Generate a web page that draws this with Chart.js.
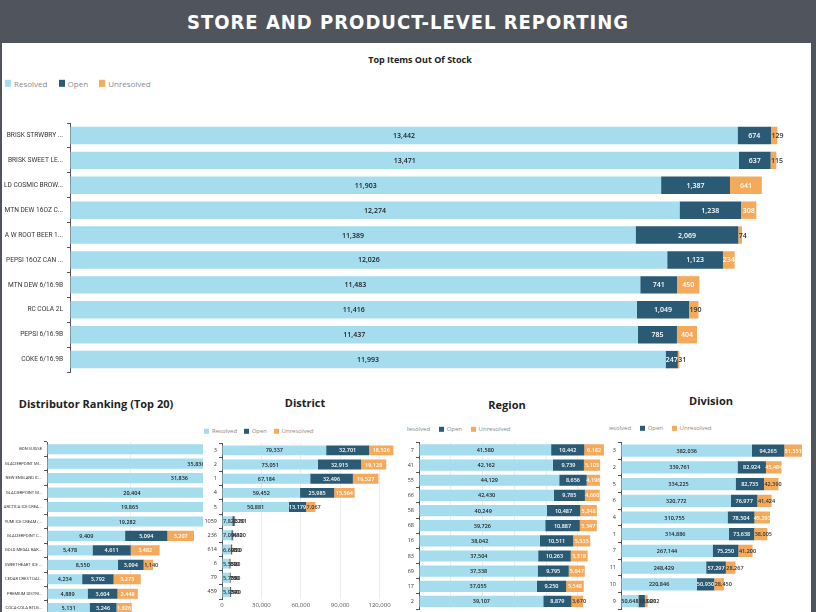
<!DOCTYPE html>
<html><head><meta charset="utf-8">
<script src="https://cdn.jsdelivr.net/npm/chart.js@4.4.1/dist/chart.umd.min.js"></script>
<style>
html,body{margin:0;padding:0;width:816px;height:612px;overflow:hidden;background:#50555d;font-family:'Open Sans',sans-serif;position:relative;}
#header{position:absolute;left:0;top:0;width:816px;height:42px;color:#fff;font-family:'DejaVu Sans Condensed','DejaVu Sans',sans-serif;font-weight:bold;font-size:20px;letter-spacing:1px;text-align:center;line-height:44px;}
#panel{position:absolute;left:2px;top:43px;width:809px;height:569px;background:#fff;}
.box{position:absolute;overflow:hidden;background:#fff;}
.title{position:absolute;font-weight:bold;color:#222;white-space:nowrap;transform:translate(-50%,-50%);}
.legend{position:absolute;white-space:nowrap;color:#8a8a8a;transform:translateY(-50%);}
.legend i{display:inline-block;vertical-align:middle;margin-right:3px;}
.legend b{font-weight:normal;vertical-align:middle;}
canvas{position:absolute;}
</style></head>
<body>
<div id="header">STORE AND PRODUCT-LEVEL REPORTING</div>
<div id="panel"></div>

<div class="title" style="left:420px;top:59px;font-size:9px;">Top Items Out Of Stock</div>
<div class="legend" style="left:5px;top:83px;font-size:8px;">
  <i style="width:6px;height:7px;background:#a5ddef"></i><b style="margin-right:9px">Resolved</b>
  <i style="width:6px;height:7px;background:#2b5a74"></i><b style="margin-right:9px">Open</b>
  <i style="width:6px;height:7px;background:#f5a95b"></i><b>Unresolved</b>
</div>
<canvas id="cTop" width="812" height="270" style="left:0;top:110px;"></canvas>

<div class="box" style="left:2px;top:390px;width:203px;height:222px;">
  <div class="title" style="left:94px;top:13px;font-size:11px;">Distributor Ranking (Top 20)</div>
  <canvas id="cDist" width="462" height="185" style="left:0;top:45px;"></canvas>
</div>

<div class="box" style="left:203px;top:390px;width:204px;height:222px;">
  <div class="title" style="left:102px;top:12px;font-size:11px;">District</div>
  <div class="legend" style="left:1px;top:41px;font-size:6px;">
    <i style="width:5px;height:5px;background:#a5ddef"></i><b style="margin-right:5px">Resolved</b>
    <i style="width:5px;height:5px;background:#2b5a74"></i><b style="margin-right:5px">Open</b>
    <i style="width:5px;height:5px;background:#f5a95b"></i><b>Unresolved</b>
  </div>
  <canvas id="cDistrict" width="230" height="174" style="left:0;top:48px;"></canvas>
</div>

<div class="box" style="left:407px;top:390px;width:202px;height:222px;">
  <div class="title" style="left:100px;top:14px;font-size:11px;">Region</div>
  <div class="legend" style="left:-10px;top:39px;font-size:6px;">
    <i style="width:5px;height:5px;background:#a5ddef"></i><b style="margin-right:7px">Resolved</b>
    <i style="width:5px;height:5px;background:#2b5a74"></i><b style="margin-right:7px">Open</b>
    <i style="width:5px;height:5px;background:#f5a95b"></i><b>Unresolved</b>
  </div>
  <canvas id="cRegion" width="215" height="190" style="left:0;top:47px;"></canvas>
</div>

<div class="box" style="left:609px;top:390px;width:202px;height:222px;">
  <div class="title" style="left:102px;top:10px;font-size:11px;">Division</div>
  <div class="legend" style="left:-11px;top:38px;font-size:6px;">
    <i style="width:5px;height:5px;background:#a5ddef"></i><b style="margin-right:7px">Resolved</b>
    <i style="width:5px;height:5px;background:#2b5a74"></i><b style="margin-right:7px">Open</b>
    <i style="width:5px;height:5px;background:#f5a95b"></i><b>Unresolved</b>
  </div>
  <canvas id="cDivision" width="201" height="190" style="left:1px;top:47px;"></canvas>
</div>

<script>
// ---------- DATA ----------
const topItems = ["BRISK STRWBRY ...","BRISK SWEET LE...","LD COSMIC BROW...","MTN DEW 16OZ C...","A W ROOT BEER 1...","PEPSI 16OZ CAN ...","MTN DEW 6/16.9B","RC COLA 2L","PEPSI 6/16.9B","COKE 6/16.9B"];
const topResolved   = [13442,13471,11903,12274,11389,12026,11483,11416,11437,11993];
const topOpen       = [674,637,1387,1238,2069,1123,741,1049,785,247];
const topUnresolved = [129,115,641,308,74,234,450,190,404,31];

const distributors = ["BON SUISSE","GLACIERPOINT MI...","NEW ENGLAND IC...","GLACIERPOINT M...","ARCTICA ICE CREA...","YUMI ICE CREAM (...","GLACIERPOINT C...","GOLD MEDAL BAK...","SWEETHEART ICE ...","CEDAR CREST DAI...","PREMIUM DISTRI...","COCA-COLA BTLG..."];
const distResolved   = [42350,35836,31836,20404,19865,19282,9409,5478,8550,4234,4889,5131];
const distOpen       = [9800,8200,7400,5100,4900,4600,5094,4611,3094,3792,3604,3246];
const distUnresolved = [4900,3900,3600,2500,2400,2300,3207,3482,1140,3273,2448,1826];

const districts = ["3","2","1","4","5","1059","236","614","6","79","459"];
const districtResolved   = [79337,73051,67184,59452,50881,7822,7096,6603,5552,5759,5954];
const districtOpen       = [32701,32915,32496,25985,13179,1781,1120,930,810,760,790];
const districtUnresolved = [18526,19128,19527,15564,7067,520,480,420,380,350,370];

const regions = ["7","41","55","66","58","68","16","83","69","17","2"];
const regionResolved   = [41580,42162,44129,42430,40249,39726,38042,37504,37338,37055,39107];
const regionOpen       = [10442,9739,8656,9785,10487,10887,10511,10263,9795,9250,8879];
const regionUnresolved = [6182,5105,4196,4660,5248,5347,5335,5318,5047,5548,3670];

const divisions = ["3","2","5","6","4","1","7","11","10","9"];
const divisionResolved   = [382036,339761,334225,320772,310755,314886,267144,248429,220846,50648];
const divisionOpen       = [94265,82924,82735,76977,78504,73638,75250,57297,50930,18920];
const divisionUnresolved = [51351,45484,42390,41424,45293,38005,41200,28267,28450,8012];

// ---------- STYLE ----------
const C_RES = '#a5ddef', C_OPEN = '#2b5a74', C_UNRES = '#f5a95b';
const FONT = "'Open Sans', sans-serif";
const NARROW = "Roboto, 'Open Sans', sans-serif";

const valueLabels = {
  id: 'valueLabels',
  afterDatasetsDraw(chart, args, opts) {
    const ctx = chart.ctx;
    ctx.save();
    ctx.font = `600 ${opts.size}px ${FONT}`;
    ctx.textBaseline = 'middle';
    chart.data.datasets.forEach((ds, i) => {
      const meta = chart.getDatasetMeta(i);
      meta.data.forEach((bar, j) => {
        const v = ds.data[j];
        if (v == null) return;
        const txt = v.toLocaleString('en-US');
        const w = Math.abs(bar.x - bar.base);
        const tw = ctx.measureText(txt).width;
        if (tw <= w + 2) {
          ctx.fillStyle = ds.labelColor;
          ctx.textAlign = 'center';
          ctx.fillText(txt, (bar.x + bar.base) / 2, bar.y + 0.5);
        } else {
          ctx.fillStyle = '#333';
          ctx.textAlign = 'left';
          ctx.fillText(txt, Math.min(bar.x, bar.base) + 0.5, bar.y + 0.5);
        }
      });
    });
    ctx.restore();
  }
};

function makeChart(id, labels, res, open, unres, o) {
  const ds = (label, data, color, lc) => ({
    label, data, backgroundColor: color, labelColor: lc,
    barPercentage: o.barPct, categoryPercentage: 1,
    borderWidth: 0
  });
  return new Chart(document.getElementById(id), {
    type: 'bar',
    data: {
      labels,
      datasets: [
        ds('Resolved', res, C_RES, '#222'),
        ds('Open', open, C_OPEN, '#fff'),
        ds('Unresolved', unres, C_UNRES, '#fff')
      ]
    },
    options: {
      indexAxis: 'y',
      responsive: false,
      animation: false,
      devicePixelRatio: 1,
      layout: { padding: o.padding },
      plugins: {
        legend: { display: false },
        tooltip: { enabled: false },
        valueLabels: { size: o.labelSize }
      },
      scales: {
        x: {
          type: 'linear', stacked: true, min: 0, max: o.max,
          ticks: { display: o.showX, stepSize: o.step, font: { size: o.xFont || 6, family: FONT }, color: '#555', padding: 3, maxRotation: 0 },
          grid: { color: '#ececec', drawTicks: false },
          border: { display: false },
          afterBuildTicks: s => { s.ticks = s.ticks.filter(t => t.value % o.step === 0); },
          afterFit: s => { s.height = o.xHeight; }
        },
        y: {
          type: 'category', stacked: true,
          ticks: { font: { size: o.yFont, family: o.yFamily || FONT }, color: '#333', padding: o.yPad || 2, autoSkip: false },
          grid: { offset: true, drawOnChartArea: false, drawTicks: true, tickLength: 3, color: '#555' },
          border: { display: true, color: '#555' },
          afterFit: s => { s.width = o.yWidth; }
        }
      }
    },
    plugins: [valueLabels]
  });
}

makeChart('cTop', topItems, topResolved, topOpen, topUnresolved, {
  barPct: 0.7, padding: { top: 13, right: 12, bottom: 1, left: 0 },
  max: 14700, step: 3000, showX: false, xHeight: 0, yWidth: 70, yFont: 6.6, yFamily: NARROW, yPad: 4, labelSize: 7
});
makeChart('cDist', distributors, distResolved, distOpen, distUnresolved, {
  barPct: 0.7, padding: { top: 7, right: 2, bottom: 4.6, left: 0 },
  max: 50000, step: 10000, showX: false, xHeight: 0, yWidth: 45, yFont: 4.1, yFamily: NARROW, labelSize: 5.5
});
makeChart('cDistrict', districts, districtResolved, districtOpen, districtUnresolved, {
  barPct: 0.7, padding: { top: 5, right: 13, bottom: 0, left: 0 },
  max: 150000, step: 30000, showX: true, xHeight: 13, yWidth: 19, yFont: 5.5, labelSize: 5.5
});
makeChart('cRegion', regions, regionResolved, regionOpen, regionUnresolved, {
  barPct: 0.74, padding: { top: 5.4, right: 2.4, bottom: 0, left: 0 },
  max: 60000, step: 10000, showX: true, xHeight: 18, yWidth: 12, yFont: 5.5, labelSize: 5.5
});
makeChart('cDivision', divisions, divisionResolved, divisionOpen, divisionUnresolved, {
  barPct: 0.73, padding: { top: 4.6, right: 1.4, bottom: 0, left: 0 },
  max: 550000, step: 100000, showX: true, xHeight: 17.6, yWidth: 11, yFont: 5.5, labelSize: 5.5
});
</script>
</body></html>
